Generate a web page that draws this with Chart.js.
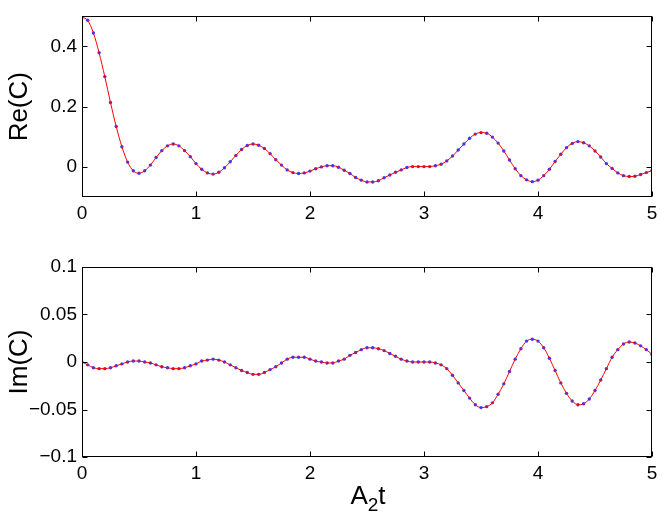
<!DOCTYPE html>
<html><head><meta charset="utf-8">
<script src="https://cdn.jsdelivr.net/npm/chart.js@4.4.1/dist/chart.umd.min.js"></script>
<style>
html,body{margin:0;padding:0;background:#fff;}
#wrap{position:relative;width:664px;height:519px;overflow:hidden;}
canvas{position:absolute;left:0;}
#c1{top:0;}
#c2{top:240px;}
#xt{position:absolute;left:368px;top:482px;transform:translateX(-50%);font-family:"Liberation Sans",Arial,sans-serif;font-size:26px;line-height:1;color:#000;white-space:nowrap;}
#xt span{font-size:19px;position:relative;top:7px;}
</style></head>
<body><div id="wrap">
<canvas id="c1" width="664" height="240"></canvas>
<canvas id="c2" width="664" height="279"></canvas>
<div id="xt">A<span>2</span>t</div>
</div>
<script>
const tValues = [0,0.05,0.1,0.15,0.2,0.25,0.3,0.35,0.4,0.45,
0.5,0.55,0.6,0.65,0.7,0.75,0.8,0.85,0.9,0.95,
1,1.05,1.1,1.15,1.2,1.25,1.3,1.35,1.4,1.45,
1.5,1.55,1.6,1.65,1.7,1.75,1.8,1.85,1.9,1.95,
2,2.05,2.1,2.15,2.2,2.25,2.3,2.35,2.4,2.45,
2.5,2.55,2.6,2.65,2.7,2.75,2.8,2.85,2.9,2.95,
3,3.05,3.1,3.15,3.2,3.25,3.3,3.35,3.4,3.45,
3.5,3.55,3.6,3.65,3.7,3.75,3.8,3.85,3.9,3.95,
4,4.05,4.1,4.15,4.2,4.25,4.3,4.35,4.4,4.45,
4.5,4.55,4.6,4.65,4.7,4.75,4.8,4.85,4.9,4.95,5];

const reValues = [0.497,0.487,0.445,0.379,0.300,0.214,0.134,0.067,0.016,-0.013,
-0.021,-0.013,0.006,0.031,0.054,0.070,0.076,0.070,0.054,0.034,
0.011,-0.008,-0.020,-0.024,-0.018,-0.003,0.017,0.038,0.058,0.071,
0.076,0.072,0.061,0.044,0.024,0.006,-0.010,-0.019,-0.022,-0.020,
-0.014,-0.006,0.000,0.004,0.004,-0.001,-0.011,-0.022,-0.035,-0.044,
-0.050,-0.050,-0.046,-0.036,-0.027,-0.018,-0.010,-0.002,0.001,0.001,
0.001,0.001,0.004,0.009,0.020,0.036,0.056,0.076,0.095,0.109,
0.114,0.112,0.099,0.079,0.053,0.023,-0.006,-0.029,-0.043,-0.049,
-0.044,-0.029,-0.008,0.018,0.042,0.064,0.078,0.084,0.080,0.070,
0.053,0.033,0.011,-0.005,-0.020,-0.029,-0.032,-0.031,-0.025,-0.019,
-0.012];

const imValues = [0.000,-0.003,-0.006,-0.007,-0.007,-0.006,-0.004,-0.002,0.000,0.001,
0.001,0.000,-0.001,-0.003,-0.005,-0.006,-0.007,-0.007,-0.006,-0.004,
-0.002,0.001,0.002,0.003,0.002,0.000,-0.003,-0.006,-0.009,-0.011,
-0.013,-0.013,-0.011,-0.008,-0.005,-0.001,0.003,0.005,0.005,0.005,
0.003,0.001,0.000,-0.001,-0.001,0.001,0.003,0.007,0.010,0.013,
0.015,0.015,0.014,0.012,0.009,0.006,0.003,0.001,0.000,0.000,
0.000,0.000,-0.001,-0.003,-0.007,-0.014,-0.022,-0.030,-0.038,-0.045,
-0.048,-0.047,-0.043,-0.034,-0.023,-0.010,0.003,0.014,0.022,0.024,
0.022,0.015,0.004,-0.009,-0.022,-0.033,-0.041,-0.045,-0.044,-0.039,
-0.030,-0.019,-0.007,0.005,0.013,0.019,0.021,0.020,0.017,0.013,
0.008];

const xTicks = [0,1,2,3,4,5];
const reTicks = [0,0.2,0.4];
const imTicks = [-0.1,-0.05,0,0.05,0.1];
const reLabel = 'Re(C)';
const imLabel = 'Im(C)';

const FONT = '"Liberation Sans", Arial, sans-serif';
Chart.defaults.color = '#000';
Chart.defaults.font.family = FONT;

function fmt(v){
  if (Math.abs(v) < 1e-9) return '0';
  return String(+v.toFixed(2)).replace('-', '\u2212');
}

const boxTicks = {
  id: 'boxTicks',
  afterDatasetsDraw(chart){
    const {ctx, chartArea: a, scales: {x, y}} = chart;
    const L = Math.round(a.left) + 0.5, R = Math.round(a.right) - 0.5;
    const T = Math.round(a.top) + 0.5, B = Math.round(a.bottom) - 0.5;
    ctx.save();
    ctx.strokeStyle = '#000';
    ctx.lineWidth = 1;
    ctx.beginPath();
    const len = 5;
    x.ticks.forEach(t => {
      const px = Math.round(x.getPixelForValue(t.value)) + 0.5;
      ctx.moveTo(px, B); ctx.lineTo(px, B - len);
      ctx.moveTo(px, T); ctx.lineTo(px, T + len);
    });
    y.ticks.forEach(t => {
      const py = Math.round(y.getPixelForValue(t.value)) + 0.5;
      ctx.moveTo(L, py); ctx.lineTo(L + len, py);
      ctx.moveTo(R, py); ctx.lineTo(R - len, py);
    });
    ctx.stroke();
    ctx.strokeRect(L, T, R - L, B - T);
    ctx.restore();
  }
};

function makeChart(id, values, yMin, yMax, yTicks, label, padTop, xAxisH){
  const pts = tValues.map((t, i) => ({x: t, y: values[i]}));
  return new Chart(document.getElementById(id), {
    type: 'line',
    data: {
      datasets: [
        {data: pts, borderColor: '#ff0000', borderWidth: 1, pointRadius: 0,
         cubicInterpolationMode: 'monotone', fill: false, order: 0},
        {data: pts, showLine: false, pointRadius: 1.7, pointBorderWidth: 0,
         pointBackgroundColor: '#3a3aff', borderColor: '#3a3aff', order: 1}
      ]
    },
    options: {
      responsive: false,
      animation: false,
      events: [],
      layout: {padding: {left: 0, right: 12, top: padTop, bottom: 0}},
      plugins: {legend: {display: false}, tooltip: {enabled: false}},
      scales: {
        x: {
          type: 'linear', min: 0, max: 5,
          afterBuildTicks: s => { s.ticks = xTicks.map(v => ({value: v})); },
          afterFit: s => { s.height = xAxisH; },
          grid: {display: false, drawTicks: false},
          border: {display: false},
          ticks: {font: {size: 19}, padding: 5, callback: v => fmt(v), maxRotation: 0}
        },
        y: {
          type: 'linear', min: yMin, max: yMax,
          afterBuildTicks: s => { s.ticks = yTicks.map(v => ({value: v})); },
          afterFit: s => { s.width = 82; },
          grid: {display: false, drawTicks: false},
          border: {display: false},
          ticks: {font: {size: 19}, padding: 5, callback: v => fmt(v)},
          title: {display: true, text: label, font: {size: 26}, padding: {top: 4, bottom: 0}}
        }
      }
    },
    plugins: [boxTicks]
  });
}

makeChart('c1', reValues, -0.1, 0.5, reTicks, reLabel, 8, 43);
makeChart('c2', imValues, -0.1, 0.1, imTicks, imLabel, 27, 62);
</script>
</body></html>
